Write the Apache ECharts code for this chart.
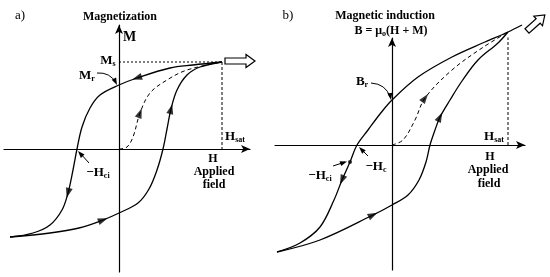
<!DOCTYPE html>
<html>
<head>
<meta charset="utf-8">
<script src="https://cdn.jsdelivr.net/npm/echarts@6/dist/echarts.min.js"></script>
<style>html,body{margin:0;padding:0;background:#fff}#main{width:550px;height:277px}</style>
</head>
<body>
<div id="main"></div>
<script>
// a) 磁化强度 M - 外加磁场 H（读图数值，任意单位）
var loopA_down = [[103,87],[74,84],[51,81],[18,71],[0,64],[-19,54],[-29,41],[-37,22],[-42,0],[-46,-21],[-51,-44],[-57,-61],[-69,-76],[-86,-84],[-109,-88]];
var loopA_up = [[-109,-88],[-69,-84],[-40,-79],[-16,-71],[0,-64],[19,-54],[30,-40],[38,-21],[44,0],[48,20],[52,40],[58,59],[68,74],[81,82],[103,87]];
var initA = [[0,0],[8,2],[14,12],[21,36],[31,56],[48,69],[68,79],[103,87]];
var satA = [103, 87];   // Hsat, Ms

// b) 磁感应强度 B - H
var loopB_down = [[130,120],[116,113],[93,103],[60,88],[26,68],[0,45],[-12,31],[-24,15],[-35,0],[-42,-17],[-50,-35],[-58,-55],[-72,-82],[-92,-98],[-115,-107]];
var loopB_up = [[-115,-107],[-72,-95],[-19,-70],[0,-60],[16,-50],[27,-35],[34,-17],[38,0],[43,15],[48,28],[58,45],[70,64],[86,85],[106,102],[116,113]];
var initB = [[0,0],[11,5],[23,25],[33,47],[60,75],[90,97],[116,113]];
var satB = [116, 113];
var hciB = [-42, -17];

// 方向箭头所在的曲线点序号
var arrowIdxA = {down: [3, 10], up: [3, 10], init: [3]};
var arrowIdxB = {down: [10], up: [2, 9], init: [3]};

var FONT = '"Liberation Serif", "Times New Roman", serif';

function dirArrows(curve, idx) {
    return idx.map(function (i) {
        var a = curve[i - 1], b = curve[i + 1];
        var ang = Math.atan2(b[1] - a[1], b[0] - a[0]) * 180 / Math.PI;
        return {value: curve[i], symbolRotate: ang - 90};
    });
}

function axisX(g, min, max) {
    return {
        type: 'value', gridIndex: g, min: min, max: max,
        axisLine: {onZero: true, symbol: ['none', 'arrow'], symbolSize: [6, 9], lineStyle: {color: '#000', width: 1.2}},
        axisTick: {show: false}, axisLabel: {show: false}, splitLine: {show: false}
    };
}

function curve(name, data, g, dashed) {
    return {
        name: name, type: 'line', xAxisIndex: g, yAxisIndex: g, data: data,
        smooth: 0.35, symbol: 'none', clip: false, silent: true,
        lineStyle: {color: '#000', width: dashed ? 1 : 1.3, type: dashed ? [4, 3] : 'solid'}
    };
}

function guide(data, g, type) {
    return {
        type: 'line', xAxisIndex: g, yAxisIndex: g, data: data, symbol: 'none', silent: true,
        lineStyle: {color: '#000', width: 1, type: type}
    };
}

function arrowSeries(data, g) {
    return {
        type: 'scatter', xAxisIndex: g, yAxisIndex: g, data: data, clip: false, silent: true,
        symbol: 'triangle', symbolSize: [7, 10], itemStyle: {color: '#000'}
    };
}

function txt(x, y, text, size, opt) {
    opt = opt || {};
    return {
        type: 'text', silent: true,
        style: {
            x: x, y: y, text: text, fill: '#000',
            font: (opt.normal ? '' : 'bold ') + size + 'px ' + FONT,
            textAlign: opt.align || 'center', textVerticalAlign: 'middle',
            rich: opt.rich
        }
    };
}

var sub = {
    b: {fontSize: 13, fontWeight: 'bold', fontFamily: FONT, lineHeight: 14},
    s: {fontSize: 8, fontWeight: 'bold', fontFamily: FONT, lineHeight: 14, verticalAlign: 'bottom', padding: [5, 0, 0, 0]},
    m: {fontSize: 12, fontWeight: 'bold', fontFamily: FONT, lineHeight: 14}
};

function head(x, y, dx, dy) {
    var L = Math.sqrt(dx * dx + dy * dy), ux = dx / L, uy = dy / L;
    return {
        type: 'polygon', silent: true,
        shape: {points: [[x, y], [x - 7 * ux + 2.5 * uy, y - 7 * uy - 2.5 * ux], [x - 7 * ux - 2.5 * uy, y - 7 * uy + 2.5 * ux]]},
        style: {fill: '#000'}
    };
}

function hollow(x0, y0, deg, len) {
    var c = Math.cos(deg * Math.PI / 180), s = Math.sin(deg * Math.PI / 180);
    var pts = [[0, -3], [len - 9, -3], [len - 9, -6.5], [len, 0], [len - 9, 6.5], [len - 9, 3], [0, 3]];
    return {
        type: 'polygon', silent: true,
        shape: {points: pts.map(function (p) { return [x0 + p[0] * c + p[1] * s, y0 - p[0] * s + p[1] * c]; })},
        style: {fill: '#fff', stroke: '#000', lineWidth: 1.2}
    };
}

var chart = echarts.init(document.getElementById('main'));
var option = {
    animation: false,
    backgroundColor: '#fff',
    grid: [
        {left: 4, top: 25, width: 246, height: 247},
        {left: 275, top: 38, width: 250, height: 232}
    ],
    xAxis: [axisX(0, -115, 131), axisX(1, -117, 133)],
    yAxis: [axisX(0, -123, 124), axisX(1, -125, 107)],
    series: [
        curve('downA', loopA_down, 0),
        curve('upA', loopA_up, 0),
        curve('initA', initA, 0, true),
        guide([[0, satA[1]], satA], 0, [2, 2]),
        guide([satA, [satA[0], 0]], 0, [3, 2]),
        arrowSeries(dirArrows(loopA_down, arrowIdxA.down).concat(dirArrows(loopA_up, arrowIdxA.up), dirArrows(initA, arrowIdxA.init)), 0),

        curve('downB', loopB_down, 1),
        curve('upB', loopB_up, 1),
        curve('initB', initB, 1, true),
        guide([satB, [satB[0], 0]], 1, [3, 2]),
        arrowSeries(dirArrows(loopB_down, arrowIdxB.down).concat(dirArrows(loopB_up, arrowIdxB.up), dirArrows(initB, arrowIdxB.init)), 1),
        {type: 'scatter', xAxisIndex: 1, yAxisIndex: 1, data: [hciB], symbol: 'circle', symbolSize: 4, itemStyle: {color: '#000'}, silent: true}
    ],
    graphic: [
        // a)
        txt(20, 16, 'a)', 13, {normal: true}),
        txt(120, 17, 'Magnetization', 12),
        txt(123, 37, 'M', 14, {align: 'left'}),
        txt(108, 61, '{b|M}{s|s}', 13, {rich: sub}),
        txt(87, 76, '{b|M}{s|r}', 13, {rich: sub}),
        {type: 'bezierCurve', silent: true, shape: {x1: 97, y1: 73, cpx1: 110, cpy1: 72, x2: 116, y2: 83}, style: {stroke: '#000', lineWidth: 1, fill: null}},
        head(117, 85, 6, 12),
        txt(235, 137, '{b|H}{s|sat}', 12, {rich: sub}),
        txt(213, 159, 'H', 12),
        txt(214, 172, 'Applied', 12),
        txt(214, 185, 'field', 12),
        txt(98, 173, '{b|\u2212H}{s|ci}', 12, {rich: sub}),
        {type: 'line', silent: true, shape: {x1: 89, y1: 163, x2: 80, y2: 153}, style: {stroke: '#000', lineWidth: 1}},
        head(78, 151, -9, -10),
        hollow(225, 61, 0, 30),

        // b)
        txt(288, 16, 'b)', 13, {normal: true}),
        txt(385, 16, 'Magnetic induction', 12),
        txt(391, 31, '{m|B = \u03bc}{s|o}{m|(H + M)}', 12, {rich: sub}),
        txt(362, 82, '{b|B}{s|r}', 13, {rich: sub}),
        {type: 'bezierCurve', silent: true, shape: {x1: 371, y1: 83, cpx1: 386, cpy1: 84, x2: 390, y2: 97}, style: {stroke: '#000', lineWidth: 1, fill: null}},
        head(391, 100, 1, 6),
        txt(494, 137, '{b|H}{s|sat}', 12, {rich: sub}),
        txt(490, 157, 'H', 12),
        txt(488, 170, 'Applied', 12),
        txt(489, 184, 'field', 12),
        txt(320, 176, '{b|\u2212H}{s|ci}', 12, {rich: sub}),
        {type: 'line', silent: true, shape: {x1: 333, y1: 166, x2: 345, y2: 162}, style: {stroke: '#000', lineWidth: 1}},
        head(347, 161.5, 12, -4),
        txt(376, 167, '{b|\u2212H}{s|c}', 12, {rich: sub}),
        {type: 'line', silent: true, shape: {x1: 368, y1: 156, x2: 361, y2: 149}, style: {stroke: '#000', lineWidth: 1}},
        head(359, 147, -9, -9),
        hollow(527, 31, 42, 24)
    ]
};
chart.setOption(option);
</script>
</body>
</html>
